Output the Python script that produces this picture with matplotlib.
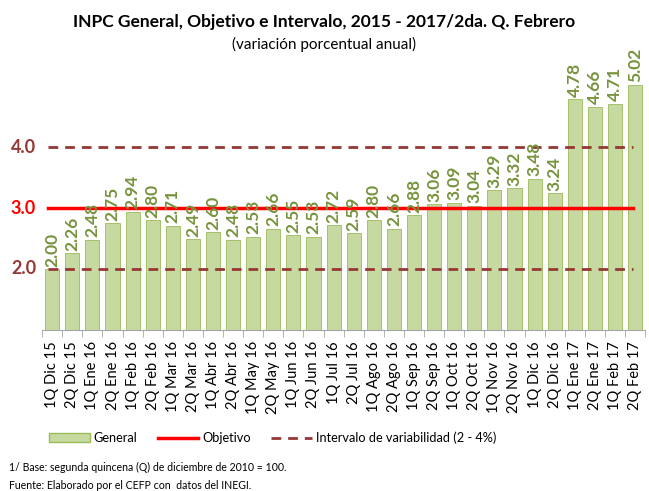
import numpy as np
import matplotlib.pyplot as plt
from matplotlib.lines import Line2D
from matplotlib.patches import Patch

plt.rcParams['font.family'] = ['Lato', 'DejaVu Sans']

# Datos
periodos = ["1Q Dic 15", "2Q Dic 15", "1Q Ene 16", "2Q Ene 16", "1Q Feb 16", "2Q Feb 16",
            "1Q Mar 16", "2Q Mar 16", "1Q Abr 16", "2Q Abr 16", "1Q May 16", "2Q May 16",
            "1Q Jun 16", "2Q Jun 16", "1Q Jul 16", "2Q Jul 16", "1Q Ago 16", "2Q Ago 16",
            "1Q Sep 16", "2Q Sep 16", "1Q Oct 16", "2Q Oct 16", "1Q Nov 16", "2Q Nov 16",
            "1Q Dic 16", "2Q Dic 16", "1Q Ene 17", "2Q Ene 17", "1Q Feb 17", "2Q Feb 17"]
general = [2.00, 2.26, 2.48, 2.75, 2.94, 2.80, 2.71, 2.49, 2.60, 2.48, 2.53, 2.66,
           2.55, 2.53, 2.72, 2.59, 2.80, 2.66, 2.88, 3.06, 3.09, 3.04, 3.29, 3.32,
           3.48, 3.24, 4.78, 4.66, 4.71, 5.02]
objetivo = 3.0
intervalo = [2.0, 4.0]

verde_barra = '#c6d9a0'
verde_borde = '#9bbb59'
verde_texto = '#77933c'
rojo = '#ff0000'
marron = '#953735'

fig = plt.figure(figsize=(6.49, 4.91), dpi=100)
ax = fig.add_axes([0.065, 0.328, 0.929, 0.534])

x = np.arange(len(periodos))
ax.bar(x, general, width=0.7, color=verde_barra, edgecolor=verde_borde, linewidth=0.6, zorder=2)

for xi, v in zip(x, general):
    ax.text(xi, v + 0.04, f"{v:.2f}", rotation=90, ha='center', va='bottom',
            color=verde_texto, fontsize=12.5, fontweight='bold', zorder=4)

x0, x1 = -0.2, len(periodos) - 1.1
ax.plot([x0, x1], [objetivo, objetivo], color=rojo, lw=2.5, zorder=3)
for lvl in intervalo:
    ax.plot([x0, x1], [lvl, lvl], color=marron, lw=2, ls=(0, (3.5, 2.5)), zorder=3)

ax.set_xlim(-0.5, len(periodos) - 0.5)
ax.set_ylim(1.0, 5.3)

for s in ['top', 'right', 'left']:
    ax.spines[s].set_visible(False)
ax.spines['bottom'].set_color('#a6a6a6')

ax.set_xticks(x)
ax.set_xticklabels(periodos, rotation=90, fontsize=10.5)
ax.tick_params(axis='x', length=0, pad=8)
ax.set_xticks(np.arange(len(periodos) + 1) - 0.5, minor=True)
ax.tick_params(axis='x', which='minor', length=5, color='#a6a6a6')

ax.set_yticks([])
ax.text(-0.8, 2.0, "2.0", ha='right', va='center', color=marron, fontsize=13, fontweight='bold')
ax.text(-0.8, 3.0, "3.0", ha='right', va='center', color=rojo, fontsize=13, fontweight='bold')
ax.text(-0.8, 4.0, "4.0", ha='right', va='center', color=marron, fontsize=13, fontweight='bold')

fig.text(0.5, 0.955, "INPC General, Objetivo e Intervalo, 2015 - 2017/2da. Q. Febrero",
         ha='center', va='center', fontsize=12.5, fontweight='bold')
fig.text(0.5, 0.91, "(variación porcentual anual)", ha='center', va='center', fontsize=11)

handles = [Patch(facecolor=verde_barra, edgecolor=verde_borde),
           Line2D([], [], color=rojo, lw=2.5),
           Line2D([], [], color=marron, lw=2, ls=(0, (3.5, 2.5)))]
etiquetas = ["General", "Objetivo", "Intervalo de variabilidad (2 - 4%)"]
fig.legend(handles, etiquetas, loc='center', bbox_to_anchor=(0.42, 0.108), ncol=3,
           frameon=False, fontsize=9.2, columnspacing=1.6, handlelength=3.2, handletextpad=0.3)

fig.text(0.014, 0.048, "1/ Base: segunda quincena (Q) de diciembre de 2010 = 100.", fontsize=7.6, va='center')
fig.text(0.014, 0.012, "Fuente: Elaborado por el CEFP con  datos del INEGI.", fontsize=7.6, va='center')

fig.savefig("out.png", dpi=100)
